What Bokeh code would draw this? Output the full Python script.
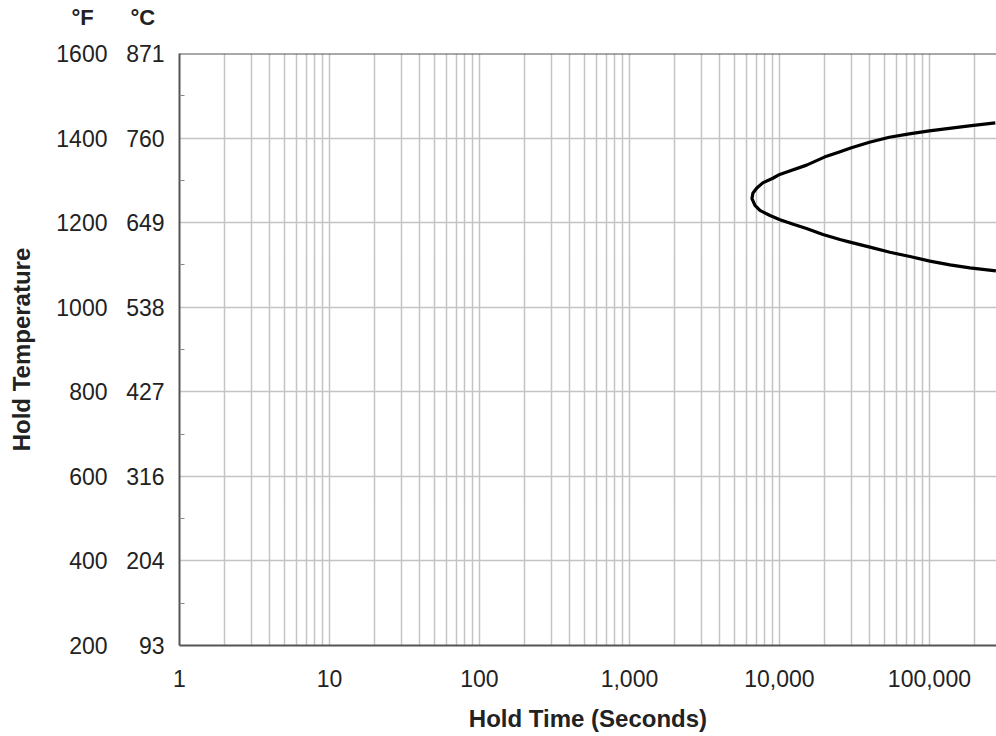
from bokeh.plotting import figure
from bokeh.models import Range1d, LinearAxis, FixedTicker, Span
from bokeh.embed import file_html
from bokeh.resources import INLINE

# ---- data ----
time_s = [275000, 184300, 135600, 99700, 73400, 54000, 39800, 30200, 25100,
          19940, 15170, 11700, 10040, 9030, 7740, 7070, 6660, 6556,
          6870, 7410, 8650, 10080, 12360, 15150, 19500, 25300, 29500,
          40100, 54500, 74100, 100700, 137000, 186000, 277500]
temp_f = [1436, 1429, 1423, 1417, 1410, 1402, 1390, 1377, 1367,
          1355, 1336, 1322, 1314, 1305, 1294, 1282, 1270, 1257,
          1241, 1229, 1217, 1207, 1196, 1186, 1172, 1160, 1154,
          1142, 1130, 1120, 1109, 1100, 1093, 1086]

x_major_ticks = [1, 10, 100, 1000, 10000, 100000]
x_tick_labels = ["1", "10", "100", "1,000", "10,000", "100,000"]
x_minor_ticks = [m * 10 ** k for k in range(0, 6) for m in range(2, 10)]

y_ticks_f = [200, 400, 600, 800, 1000, 1200, 1400, 1600]
y_labels_c = ["93", "204", "316", "427", "538", "649", "760", "871"]
y_minor_f = [300, 500, 700, 900, 1100, 1300, 1500]

header_text = "°F" + "\u00a0" * 6 + "°C"

FONT = "Liberation Sans"
TXT = "#222222"
AXC = "#555555"
GRID = "#c4c4c4"

p = figure(width=996, height=736, x_axis_type="log",
           x_range=Range1d(1, 280000), y_range=Range1d(200, 1600),
           output_backend="svg", toolbar_location=None,
           min_border_left=179, min_border_right=0,
           min_border_top=53, min_border_bottom=91)
p.outline_line_color = None
p.background_fill_color = "white"
p.border_fill_color = "white"

xa = p.below[0]
ya = p.left[0]

# header (°F / °C) as title
p.title.text = header_text
p.title.align = "left"
p.title.offset = -108
p.title.standoff = 0
p.title.text_font = FONT
p.title.text_font_style = "bold"
p.title.text_font_size = "22px"
p.title.text_color = TXT

# invisible spacer axis above the frame (lifts the header)
spacer = LinearAxis(ticker=FixedTicker(ticks=[1000]))
spacer.major_label_overrides = {1000: "\u00a0"}
spacer.axis_line_color = None
spacer.major_tick_out = 20
spacer.major_tick_in = 0
spacer.major_tick_line_color = "white"
spacer.minor_tick_out = 0
spacer.minor_tick_in = 0
spacer.major_label_standoff = 0
spacer.major_label_text_font_size = "1px"
spacer.axis_label_standoff = 0
p.add_layout(spacer, "above")

# x axis
xa.ticker = FixedTicker(ticks=x_major_ticks, minor_ticks=x_minor_ticks)
xa.major_label_overrides = {t: l for t, l in zip(x_major_ticks, x_tick_labels)}
xa.major_tick_in = 0
xa.major_tick_out = 0
xa.minor_tick_in = 0
xa.minor_tick_out = 0
xa.major_label_standoff = 24
xa.axis_line_color = AXC
xa.axis_line_width = 2
xa.major_label_text_font = FONT
xa.major_label_text_font_size = "23px"
xa.major_label_text_color = TXT
xa.axis_label = "Hold Time (Seconds)"
xa.axis_label_text_font = FONT
xa.axis_label_text_font_style = "bold"
xa.axis_label_text_font_size = "24px"
xa.axis_label_text_color = TXT
xa.axis_label_standoff = 15

# inner y axis (°C)
ya.ticker = FixedTicker(ticks=y_ticks_f, minor_ticks=y_minor_f)
ya.major_label_overrides = {t: l for t, l in zip(y_ticks_f, y_labels_c)}
ya.major_tick_in = 0
ya.major_tick_out = 0
ya.minor_tick_in = 5
ya.minor_tick_out = 0
ya.minor_tick_line_color = "#888888"
ya.major_label_standoff = 15
ya.axis_line_color = AXC
ya.axis_line_width = 2
ya.major_label_text_font = FONT
ya.major_label_text_font_size = "23px"
ya.major_label_text_color = TXT

# outer y axis (°F)
yf = LinearAxis(ticker=FixedTicker(ticks=y_ticks_f))
yf.major_tick_in = 0
yf.major_tick_out = 0
yf.minor_tick_in = 0
yf.minor_tick_out = 0
yf.axis_line_color = None
yf.major_label_standoff = 16
yf.major_label_text_font = FONT
yf.major_label_text_font_size = "23px"
yf.major_label_text_color = TXT
yf.axis_label = "Hold Temperature"
yf.axis_label_text_font = FONT
yf.axis_label_text_font_style = "bold"
yf.axis_label_text_font_size = "24px"
yf.axis_label_text_color = TXT
yf.axis_label_standoff = 18
p.add_layout(yf, "left")

# grids
p.xgrid.grid_line_color = GRID
p.xgrid.grid_line_width = 1.5
p.xgrid.minor_grid_line_color = GRID
p.xgrid.minor_grid_line_width = 1.5
p.ygrid.grid_line_color = GRID
p.ygrid.grid_line_width = 1.5

p.add_layout(Span(location=1600, dimension="width", line_color=AXC, line_width=2))

# curve
p.line(time_s, temp_f, line_color="black", line_width=3.2, line_join="round")

open("out.html", "w").write(file_html(p, INLINE))
